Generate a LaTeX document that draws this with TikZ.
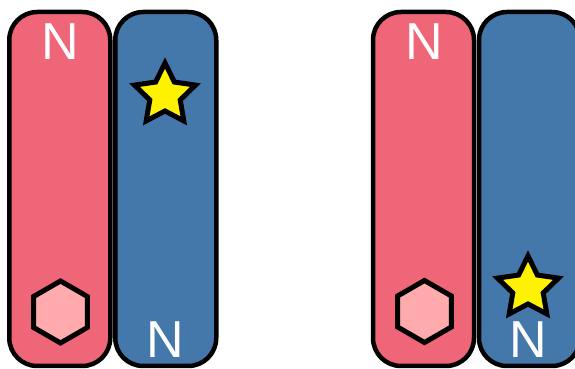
\documentclass[tikz,border=0pt]{standalone}
\usepackage{fontspec}
\setmainfont{Liberation Sans}
\definecolor{strandpink}{RGB}{238,102,119}
\definecolor{strandblue}{RGB}{68,119,170}
\definecolor{hexpink}{RGB}{255,170,172}
\usetikzlibrary{positioning,shapes.geometric}

\begin{document}
\begin{tikzpicture}[
  x=1pt, y=1pt,
  strand/.style={draw, line width=4.5pt, rounded corners=28pt, minimum width=101pt, minimum height=354pt, inner sep=0pt, outer sep=0pt},
  marker/.style={draw, line width=5pt, star, star points=5, star point ratio=2, minimum size=64pt, inner sep=0pt, fill=yellow},
  hexa/.style={draw, line width=5pt, regular polygon, regular polygon sides=6, regular polygon rotate=30, minimum size=62pt, inner sep=0pt, fill=hexpink},
  lbl/.style={text=white, font=\fontsize{52}{52}\selectfont, inner sep=0pt, anchor=base},
  node distance=5pt
]
  \useasboundingbox (0,0) rectangle (575,369);

  % left pair
  \node[strand, fill=strandpink] (pinkL) at (59.75,180) {};
  \node[strand, fill=strandblue, right=of pinkL] (blueL) {};
  \node[lbl] (nTopL) at (60,309) {N};
  \node[lbl] (nBotL) at (165,11) {N};
  \node[marker] (starL) at (165,274) {};
  \node[hexa] (hexL) at (60.5,57) {};

  % right pair
  \node[strand, fill=strandpink] (pinkR) at (423.5,180) {};
  \node[strand, fill=strandblue, right=of pinkR] (blueR) {};
  \node[lbl] (nTopR) at (424,309) {N};
  \node[lbl] (nBotR) at (528,11) {N};
  \node[marker] (starR) at (528,81) {};
  \node[hexa] (hexR) at (424.5,57.5) {};
\end{tikzpicture}
\end{document}
